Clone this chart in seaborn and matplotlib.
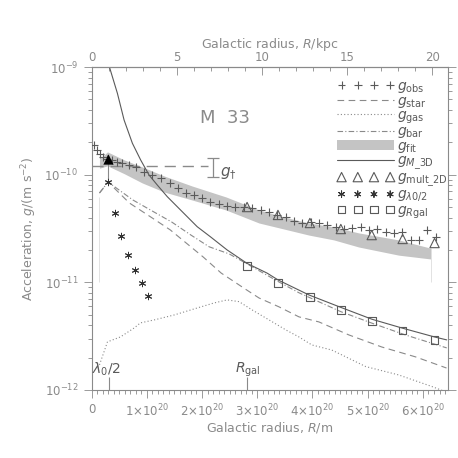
import numpy as np
import pandas as pd
import matplotlib
matplotlib.use("Agg")
import matplotlib.pyplot as plt
import seaborn as sns
from matplotlib.ticker import FixedLocator, LogLocator, NullFormatter, MultipleLocator

KPC = 3.0857e19   # metres per kpc
UNIT = 1e20       # radii below are in units of 1e20 m

# observed accelerations
r_obs = [0.054, 0.108, 0.162, 0.217, 0.289, 0.379, 0.469, 0.560, 0.686, 0.812,
         0.957, 1.101, 1.264, 1.426, 1.570, 1.715, 1.859, 2.004, 2.148, 2.310,
         2.455, 2.599, 2.762, 2.906, 3.069, 3.213, 3.357, 3.520, 3.664, 3.809,
         3.971, 4.116, 4.260, 4.422, 4.567, 4.711, 4.874, 5.018, 5.162, 5.325,
         5.469, 5.614, 5.776, 5.921, 6.065, 6.227]
g_obs = [1.89e-10, 1.69e-10, 1.56e-10, 1.46e-10, 1.40e-10, 1.37e-10, 1.31e-10, 1.29e-10,
         1.23e-10, 1.18e-10, 1.06e-10, 9.93e-11, 9.31e-11, 8.38e-11, 7.53e-11, 6.76e-11,
         6.49e-11, 6.08e-11, 5.58e-11, 5.35e-11, 5.12e-11, 5.01e-11, 5.01e-11, 4.91e-11,
         4.70e-11, 4.51e-11, 4.23e-11, 4.05e-11, 3.72e-11, 3.56e-11, 3.64e-11, 3.56e-11,
         3.41e-11, 3.27e-11, 3.13e-11, 3.20e-11, 3.27e-11, 3.07e-11, 3.13e-11, 2.94e-11,
         2.88e-11, 2.94e-11, 2.48e-11, 2.48e-11, 3.07e-11, 2.64e-11]

# baryonic components
r_star = [0.144, 0.30, 0.686, 1.101, 1.426, 2.022, 2.347, 2.780, 3.032, 3.394,
          3.755, 4.116, 4.657, 5.253, 5.866, 6.426]
g_star = [6.76e-11, 8.55e-11, 5.46e-11, 3.96e-11, 3.07e-11, 1.72e-11, 1.22e-11, 8.69e-12,
          7.16e-12, 5.92e-12, 4.78e-12, 4.29e-12, 3.25e-12, 2.51e-12, 2.03e-12, 1.60e-12]

r_gas = [0.144, 0.289, 0.523, 0.776, 0.884, 1.137, 1.498, 1.913, 2.220, 2.455, 2.671,
         2.906, 3.213, 3.520, 3.755, 3.989, 4.350, 4.964, 5.560, 6.155, 6.372]
g_gas = [1.71e-12, 2.80e-12, 3.11e-12, 3.78e-12, 4.20e-12, 4.48e-12, 4.98e-12, 5.78e-12,
         6.44e-12, 6.87e-12, 6.62e-12, 5.55e-12, 4.48e-12, 3.61e-12, 3.11e-12, 2.62e-12,
         2.35e-12, 1.65e-12, 1.38e-12, 1.08e-12, 0.98e-12]

r_bar = [0.144, 0.30, 0.75, 1.10, 1.45, 1.80, 2.13, 2.49, 2.79, 3.39, 3.76, 4.51,
         5.08, 5.68, 6.43]
g_bar = [6.76e-11, 8.55e-11, 5.82e-11, 4.60e-11, 3.64e-11, 2.75e-11, 2.14e-11, 1.84e-11,
         1.51e-11, 1.01e-11, 7.98e-12, 5.35e-12, 4.17e-12, 3.25e-12, 2.46e-12]

# fitted band
r_fit = [0.144, 0.289, 0.596, 0.92, 1.318, 1.823, 2.437, 3.032, 3.484, 3.935, 4.386,
         4.838, 5.560, 6.137]
g_fit_hi = [1.40e-10, 1.63e-10, 1.37e-10, 1.18e-10, 9.72e-11, 7.85e-11, 6.21e-11, 4.70e-11,
            4.05e-11, 3.56e-11, 3.27e-11, 2.88e-11, 2.48e-11, 2.08e-11]
g_fit_lo = [1.15e-10, 1.21e-10, 1.02e-10, 8.38e-11, 6.90e-11, 5.82e-11, 4.70e-11, 3.56e-11,
            3.13e-11, 2.75e-11, 2.48e-11, 2.13e-11, 1.79e-11, 1.65e-11]

# point-mass curve
r_m3d = [0.325, 0.469, 0.590, 0.740, 0.890, 1.042, 1.191, 1.372, 1.612, 1.913, 2.153,
         2.455, 2.816, 3.177, 3.381, 3.935, 4.507, 5.078, 5.632, 6.209, 6.43]
g_m3d = [1.0e-9, 5.70e-10, 3.22e-10, 1.96e-10, 1.37e-10, 9.93e-11, 8.02e-11, 6.25e-11,
         4.70e-11, 3.29e-11, 2.65e-11, 2.00e-11, 1.50e-11, 1.22e-11, 1.05e-11, 7.64e-12,
         5.87e-12, 4.54e-12, 3.75e-12, 3.11e-12, 2.92e-12]

# marker series
r_outer = [2.816, 3.375, 3.953, 4.513, 5.072, 5.632, 6.21]
g_mult2d = [5.01e-11, 4.23e-11, 3.56e-11, 3.13e-11, 2.75e-11, 2.53e-11, 2.32e-11]
g_rgal = [1.42e-11, 9.82e-12, 7.28e-12, 5.55e-12, 4.39e-12, 3.56e-12, 2.92e-12]

r_lam = [0.30, 0.42, 0.54, 0.66, 0.79, 0.91, 1.03]
g_lam = [8.61e-11, 4.39e-11, 2.67e-11, 1.79e-11, 1.29e-11, 9.82e-12, 7.53e-12]

r_peak = [0.30]
g_peak = [1.39e-10]

# g dagger
g_dagger = 1.2e-10
g_dagger_err = 0.24e-10
r_dagger_end = 2.11
r_dagger_bar = 2.20

# fit range edges
r_edges = [0.144, 6.137]
g_edges_top = [6.21e-11, 2.08e-11]
g_edges_bot = [1.01e-11, 1.01e-11]

r_lambda_half = 0.31
r_gal = 2.82

x_ticks_m = [0, 1, 2, 3, 4, 5, 6]
x_ticklabels = ["0"] + [rf"${k}{{\times}}10^{{20}}$" for k in range(1, 7)]
kpc_ticks = [0, 5, 10, 15, 20]

GREY = "#8a8a8a"
DARK = "#5a5a5a"

sns.set_style("ticks")
plt.rcParams["font.family"] = ["DejaVu Sans"]
plt.rcParams["mathtext.fontset"] = "dejavusans"

fig = plt.figure(figsize=(4.58, 4.58), dpi=100)
ax = fig.add_axes([0.1998, 0.1485, 0.778, 0.705])
ax.set_yscale("log")


def m(r):
    return np.asarray(r) * UNIT


# band
band = ax.fill_between(m(r_fit), g_fit_lo, g_fit_hi, color="#c4c4c4", lw=0,
                       label=r"$g_{\rm fit}$", zorder=1)
ax.vlines(m(r_edges), g_edges_bot, g_edges_top, color="#e2e2e2", lw=0.7, zorder=0)

# lines
sns.lineplot(x=m(r_star), y=g_star, ax=ax, color=GREY, lw=0.8,
             linestyle=(0, (6, 4)), label=r"$g_{\rm star}$")
sns.lineplot(x=m(r_gas), y=g_gas, ax=ax, color=GREY, lw=0.8,
             linestyle=(0, (1, 2)), label=r"$g_{\rm gas}$")
sns.lineplot(x=m(r_bar), y=g_bar, ax=ax, color=GREY, lw=0.8,
             linestyle=(0, (5, 2, 1, 2)), label=r"$g_{\rm bar}$")
sns.lineplot(x=m(r_m3d), y=g_m3d, ax=ax, color=DARK, lw=0.8,
             label=r"$g_{M\mathrm{\_3D}}$")

# markers
sns.scatterplot(x=m(r_obs), y=g_obs, ax=ax, marker="+", s=30, color=DARK,
                linewidth=0.8, label=r"$g_{\rm obs}$", zorder=4)
sns.scatterplot(x=m(r_outer), y=g_mult2d, ax=ax, marker="^", s=45, color=GREY,
                facecolor="none", edgecolor=DARK, linewidth=0.8,
                label=r"$g_{\rm mult\_2D}$", zorder=5)
sns.scatterplot(x=m(r_lam), y=g_lam, ax=ax, marker=(6, 2, 0), s=22, color="#333333",
                linewidth=0.7, label=r"$g_{\lambda0/2}$", zorder=5)
sns.scatterplot(x=m(r_outer), y=g_rgal, ax=ax, marker="s", s=30, color=GREY,
                facecolor="none", edgecolor=DARK, linewidth=0.8,
                label=r"$g_{R\mathrm{gal}}$", zorder=5)
sns.scatterplot(x=m(r_peak), y=g_peak, ax=ax, marker="^", s=55, color="black",
                linewidth=0, zorder=6)
ax.vlines(m(r_peak), g_lam[0], g_peak[0], color=GREY, lw=0.8, zorder=3)

# g dagger
ax.plot([0, m(r_dagger_end)], [g_dagger, g_dagger], color=GREY, lw=1.0,
        dashes=(8, 5))
ax.errorbar(m(r_dagger_bar), g_dagger, yerr=g_dagger_err, color=GREY, lw=0.9,
            capsize=4, capthick=0.9)
ax.text(m(2.33), 1.03e-10, r"$g_{\dagger}$", color=DARK, fontsize=11,
        ha="left", va="center")
ax.text(m(2.42), 3.36e-10, "M  33", color=GREY, fontsize=13, ha="center",
        va="center")

# markers on the radius axis
ax.vlines(m([r_lambda_half, r_gal]), 1e-12, 1.33e-12, color=GREY, lw=0.8)
ax.text(m(0.27), 1.55e-12, r"$\lambda_0/2$", color=DARK, fontsize=10,
        ha="center", va="center")
ax.text(m(r_gal), 1.55e-12, r"$R_{\rm gal}$", color=DARK, fontsize=10,
        ha="center", va="center")

ax.set_xlim(0, m(6.45))
ax.set_ylim(1e-12, 1e-9)

ax.xaxis.set_major_locator(FixedLocator(m(x_ticks_m)))
ax.set_xticklabels(x_ticklabels)
ax.xaxis.set_minor_locator(MultipleLocator(1e19))
ax.xaxis.get_offset_text().set_visible(False)
ax.yaxis.set_major_locator(LogLocator(base=10))
ax.yaxis.set_minor_locator(LogLocator(base=10, subs=np.arange(2, 10)))
ax.yaxis.set_minor_formatter(NullFormatter())

ax.tick_params(which="both", colors=GREY, labelcolor=GREY, labelsize=8.5,
               direction="out", width=0.6, right=True)
ax.tick_params(which="major", length=6)
ax.tick_params(which="minor", length=3)
for sp in ax.spines.values():
    sp.set_color(GREY)
    sp.set_linewidth(0.8)

ax.set_xlabel(r"Galactic radius, $R$/m", color=GREY, fontsize=9, labelpad=0)
ax.set_ylabel(r"Acceleration, $g$/(m s$^{-2}$)", color=GREY, fontsize=9, labelpad=4)

top = ax.secondary_xaxis("top", functions=(lambda x: x / KPC, lambda x: x * KPC))
top.set_xticks(kpc_ticks)
top.xaxis.set_minor_locator(MultipleLocator(1))
top.xaxis.get_offset_text().set_visible(False)
top.tick_params(which="both", colors=GREY, labelcolor=GREY, labelsize=8.5,
                direction="in", width=0.6, pad=2)
top.tick_params(which="major", length=6)
top.tick_params(which="minor", length=3)
top.spines["top"].set_color(GREY)
top.set_xlabel(r"Galactic radius, $R$/kpc", color=GREY, fontsize=9, labelpad=2.5)

# legend in the original order
handles, labels = ax.get_legend_handles_labels()
order = [r"$g_{\rm obs}$", r"$g_{\rm star}$", r"$g_{\rm gas}$", r"$g_{\rm bar}$",
         r"$g_{\rm fit}$", r"$g_{M\mathrm{\_3D}}$", r"$g_{\rm mult\_2D}$",
         r"$g_{\lambda0/2}$", r"$g_{R\mathrm{gal}}$"]
lookup = dict(zip(labels, handles))
leg = ax.legend([lookup[k] for k in order], order, loc="upper right",
                bbox_to_anchor=(1.028, 0.994),
                frameon=False, scatterpoints=4, scatteryoffsets=[0.5],
                handlelength=4.1, handletextpad=0.2, labelspacing=-0.09,
                fontsize=10, borderaxespad=0.3)
for t in leg.get_texts():
    t.set_color(DARK)

fig.savefig("out.png", dpi=100)
